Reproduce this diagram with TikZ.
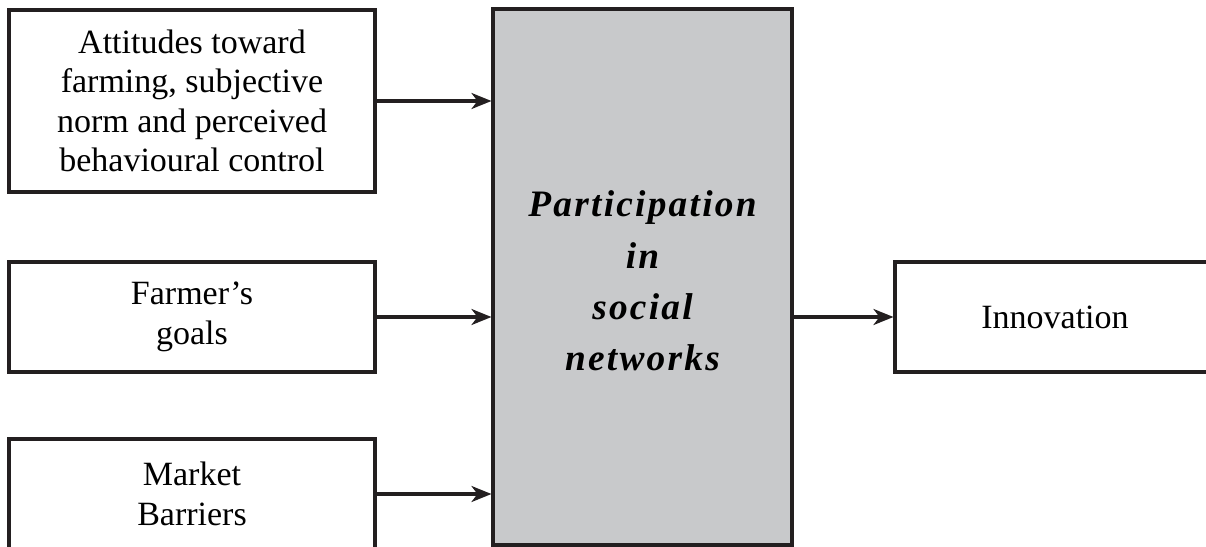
\documentclass[tikz,border=0pt]{standalone}
\usepackage{fontspec}
\setmainfont{Liberation Serif}
\newfontfamily\spacedserif[LetterSpace=6]{Liberation Serif}
\usetikzlibrary{arrows.meta}
\definecolor{inkdark}{RGB}{35,31,32}
\definecolor{boxgray}{RGB}{200,201,203}
\tikzset{
  plainbox/.style={draw=inkdark, line width=2.3pt, fill=white, align=center,
    font=\fontsize{25.5}{29.5}\selectfont, inner sep=0pt},
  centerbox/.style={draw=inkdark, line width=2.3pt, fill=boxgray, inner sep=0pt},
  centertext/.style={align=center, inner sep=0pt,
    font=\spacedserif\bfseries\itshape\fontsize{28}{38.5}\selectfont},
  arr/.style={draw=inkdark, line width=2.3pt, -{Stealth[length=15pt,width=12pt,inset=4.5pt]}}
}
\begin{document}
\begin{tikzpicture}[x=0.75pt,y=-0.75pt]
\useasboundingbox (0,0) rectangle (1206,546);
\node[plainbox, minimum width=274.5pt, minimum height=136.5pt] (b1) at (192,101)
  {Attitudes toward\\farming, subjective\\norm and perceived\\behavioural control};
\node[plainbox, minimum width=274.5pt, minimum height=82.5pt] (b2) at (192,317)
  {Farmer’s\\goals};
\node[plainbox, minimum width=274.5pt, minimum height=82.5pt] (b3) at (192,494)
  {Market\\Barriers};
\node[centerbox, minimum width=224.25pt, minimum height=402pt] (c) at (642.5,277) {};
\node[centertext] (ct) at (642.5,281) {Participation\\in\\social\\networks};
\node[plainbox, minimum width=240pt, minimum height=82.5pt] (inn) at (1055,317)
  {Innovation};
\draw[arr] (b1.east) -- (c.west |- b1.east);
\draw[arr] (b2.east) -- (c.west |- b2.east);
\draw[arr] (b3.east) -- (c.west |- b3.east);
\draw[arr] (c.east |- inn.west) -- (inn.west);
\end{tikzpicture}
\end{document}
